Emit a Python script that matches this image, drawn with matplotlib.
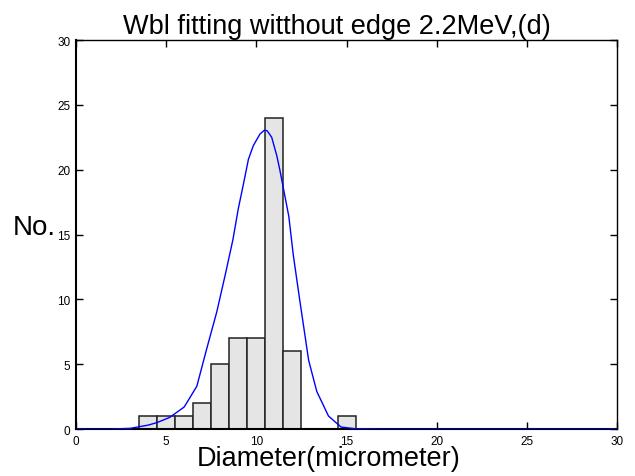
import numpy as np
import matplotlib
matplotlib.use("Agg")
import matplotlib.pyplot as plt

plt.rcParams['font.family'] = ['Liberation Sans', 'DejaVu Sans']

# histogram counts (bin centres, width 1)
bin_centres = [4, 5, 6, 7, 8, 9, 10, 11, 12, 15]
counts = [1, 1, 1, 2, 5, 7, 7, 24, 6, 1]

# fitted Weibull curve
fit_x = [0, 2, 3, 4, 4.5, 5.2, 6.0, 6.7, 7.25, 7.8, 8.26, 8.7, 9.0, 9.3, 9.56,
         9.83, 10.2, 10.45, 10.6, 10.85, 11.13, 11.3, 11.8, 12.05, 12.4, 12.9,
         13.35, 14.0, 14.7, 15.5, 17, 30]
fit_y = [0, 0.0, 0.05, 0.3, 0.5, 0.9, 1.7, 3.3, 6.2, 9.0, 11.8, 14.6, 17.0, 19.0,
         20.8, 21.85, 22.75, 23.05, 23.0, 22.5, 21.1, 20.0, 16.4, 13.4, 10.0, 5.3,
         2.9, 1.0, 0.15, 0.02, 0, 0]

fig = plt.figure(figsize=(6.35, 4.77), dpi=100)
ax = fig.add_axes([0.1197, 0.0985, 0.852, 0.8155])

ax.bar(bin_centres, counts, width=1.0, color='#e5e5e5', edgecolor='#222222',
       linewidth=1.1, zorder=2)
ax.plot(fit_x, fit_y, color='#0000ff', linewidth=1.0, zorder=3)

ax.set_xlim(0, 30)
ax.set_ylim(0, 30)
ax.set_xticks(np.arange(0, 31, 5))
ax.set_yticks(np.arange(0, 31, 5))
ax.tick_params(direction='in', top=True, right=True, length=5, width=1,
               labelsize=8.5, pad=4)
for s in ax.spines.values():
    s.set_linewidth(1.0)
ax.spines['left'].set_linewidth(1.5)
ax.spines['bottom'].set_linewidth(1.5)

ax.set_title('Wbl fitting witthout edge 2.2MeV,(d)', fontsize=19.5, pad=5, x=0.482)
ax.set_xlabel('Diameter(micrometer)', fontsize=19.5, labelpad=-1)
ax.xaxis.label.set_x(0.467)
ax.set_ylabel('No.', fontsize=20, rotation=0, ha='right', va='center')
ax.yaxis.set_label_coords(-0.037, 0.52)

fig.savefig('out.png', dpi=100)
